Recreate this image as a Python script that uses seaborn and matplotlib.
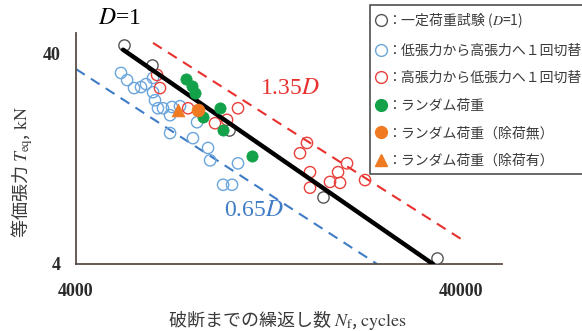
import matplotlib
matplotlib.use("Agg")
import matplotlib.pyplot as plt
from matplotlib.lines import Line2D
from matplotlib.ticker import FixedLocator, NullFormatter
import seaborn as sns

# ---------------- data ----------------
const_N = [5330, 6300, 9990, 17500, 34700]
const_T = [43.6, 35.1, 17.3, 8.3, 4.27]

low_high_N = [5235, 5430, 5660, 5900, 6080, 6340, 6340, 6415, 6530, 6730, 7020,
              7100, 7450, 8250, 7020, 8050, 8810, 8920, 10540, 9640, 10170]
low_high_T = [32.2, 29.8, 27.3, 27.6, 28.5, 30.5, 26.1, 23.9, 21.9, 21.9, 20.3,
              22.2, 22.4, 18.8, 16.7, 15.8, 14.2, 12.4, 12.0, 9.5, 9.5]

high_low_N = [6495, 6610, 7820, 9185, 9870, 10540, 15270, 15920, 16210, 16210,
              18270, 19170, 19400, 20230, 22530]
high_low_T = [31.5, 27.3, 21.9, 18.6, 19.3, 21.9, 13.4, 15.0, 10.9, 9.2,
              9.8, 10.9, 9.7, 12.0, 10.0]

random_N = [7725, 8005, 8150, 8550, 9460, 9640, 11460]
random_T = [30.1, 27.9, 25.9, 19.9, 21.9, 17.3, 13.0]

random_noun_N = [8300]
random_noun_T = [21.5]

random_un_N = [7360]
random_un_T = [21.5]

line_D1_N = [5300, 33800]
line_D1_T = [41.5, 4.0]
line_065_N = [4000, 24200]
line_065_T = [33.6, 4.0]
line_135_N = [6340, 41200]
line_135_T = [44.7, 5.08]

x_ticks = [4000, 40000]
x_minor = [8000, 12000, 16000, 20000, 24000, 28000, 32000, 36000]
y_ticks = [4, 40]

legend_labels = ["：一定荷重試験 ($D$=1)",
                 "：低張力から高張力へ１回切替",
                 "：高張力から低張力へ１回切替",
                 "：ランダム荷重",
                 "：ランダム荷重（除荷無）",
                 "：ランダム荷重（除荷有）"]

# ---------------- style ----------------
sns.set_theme(style="white")
plt.rcParams["font.family"] = ["Noto Sans CJK JP", "DejaVu Sans"]
plt.rcParams["mathtext.fontset"] = "stix"

GRAY = "#555555"
BLUE = "#6aa5dc"
RED = "#e8403a"
GREEN = "#13a24a"
ORANGE = "#ef7a22"
LBLUE = "#3f7cc6"
LRED = "#e8312f"
SPINE = "#5a4d48"
TXT = "#3a3a3a"

fig = plt.figure(figsize=(5.82, 3.31), dpi=100)
ax = fig.add_axes([76 / 582, 1 - 264 / 331, (502 - 76) / 582, (264 - 33) / 331])
ax.set_xscale("log")
ax.set_yscale("log")

# lines
sns.lineplot(x=line_065_N, y=line_065_T, ax=ax, color=LBLUE, lw=1.5,
             linestyle=(0, (5, 3.5)), zorder=2)
sns.lineplot(x=line_135_N, y=line_135_T, ax=ax, color=LRED, lw=1.5,
             linestyle=(0, (5, 3.5)), zorder=2)
sns.lineplot(x=line_D1_N, y=line_D1_T, ax=ax, color="black", lw=3.2, zorder=4)

S = 66
sns.scatterplot(x=low_high_N, y=low_high_T, ax=ax, marker="o", s=S,
                facecolor="none", edgecolor=BLUE, linewidth=1.0, zorder=3)
sns.scatterplot(x=high_low_N, y=high_low_T, ax=ax, marker="o", s=S,
                facecolor="none", edgecolor=RED, linewidth=1.0, zorder=3)
sns.scatterplot(x=const_N, y=const_T, ax=ax, marker="o", s=S,
                facecolor="white", edgecolor=GRAY, linewidth=1.0, zorder=3)
sns.scatterplot(x=random_N, y=random_T, ax=ax, marker="o", s=S,
                color=GREEN, edgecolor=GREEN, linewidth=0.5, zorder=5)
sns.scatterplot(x=random_noun_N, y=random_noun_T, ax=ax, marker="o", s=S * 1.3,
                color=ORANGE, edgecolor=ORANGE, linewidth=0.5, zorder=5)
sns.scatterplot(x=random_un_N, y=random_un_T, ax=ax, marker="^", s=S * 1.3,
                color=ORANGE, edgecolor=ORANGE, linewidth=0.5, zorder=5)

ax.set_xlim(4000, 51100)
ax.set_ylim(4, 49.8)

# axes styling
for s in ["top", "right"]:
    ax.spines[s].set_visible(False)
for s in ["left", "bottom"]:
    ax.spines[s].set_color(SPINE)
    ax.spines[s].set_linewidth(1.3)

ax.set_xticks(x_ticks)
ax.set_xticklabels([str(v) for v in x_ticks])
ax.xaxis.set_minor_locator(FixedLocator(x_minor))
ax.xaxis.set_minor_formatter(NullFormatter())
ax.set_yticks(y_ticks)
ax.set_yticklabels([str(v) for v in y_ticks])
ax.yaxis.set_minor_locator(FixedLocator([]))
ax.tick_params(axis="x", which="both", direction="in", length=4, width=1.0,
               color=SPINE, pad=14)
ax.tick_params(axis="y", which="both", length=0, pad=11)
for lab in ax.get_xticklabels() + ax.get_yticklabels():
    lab.set_fontfamily("Liberation Serif")
    lab.set_fontweight("bold")
    lab.set_fontsize(13)
    lab.set_color("#2a2a2a")

ax.set_xlabel("")
ax.set_ylabel("")

# axis titles
fig.text(287 / 582, 1 - 320 / 331, "破断までの繰返し数 $N_{\\rm f}$, $\\mathrm{cycles}$",
         ha="center", va="center", fontsize=13, color=TXT)
fig.text(22 / 582, 1 - 172 / 331, "等価張力 $T_{\\rm eq}$, $\\mathrm{kN}$",
         ha="center", va="center", rotation=90, fontsize=13, color=TXT)

# annotations
fig.text(119 / 582, 1 - 19 / 331, "$D$=1", ha="center", va="center",
         fontsize=17, family="Liberation Serif", color="black")
fig.text(290 / 582, 1 - 88 / 331, "1.35$D$", ha="center", va="center",
         fontsize=17, family="Liberation Serif", color=LRED)
fig.text(254 / 582, 1 - 210 / 331, "0.65$D$", ha="center", va="center",
         fontsize=17, family="Liberation Serif", color=LBLUE)

# legend
ms = 8.5
handles = [
    Line2D([], [], ls="none", marker="o", ms=ms, mfc="none", mec=GRAY, mew=1.0),
    Line2D([], [], ls="none", marker="o", ms=ms, mfc="none", mec=BLUE, mew=1.0),
    Line2D([], [], ls="none", marker="o", ms=ms, mfc="none", mec=RED, mew=1.0),
    Line2D([], [], ls="none", marker="o", ms=ms, mfc=GREEN, mec=GREEN),
    Line2D([], [], ls="none", marker="o", ms=ms, mfc=ORANGE, mec=ORANGE),
    Line2D([], [], ls="none", marker="^", ms=ms, mfc=ORANGE, mec=ORANGE),
]
leg = ax.legend(handles, legend_labels, loc="upper left",
                bbox_to_anchor=(370 / 582, 1 - 5 / 331),
                bbox_transform=fig.transFigure, frameon=True, fancybox=False,
                fontsize=10, handlelength=0.7, handletextpad=0.1,
                labelspacing=0.98, borderpad=0.45, borderaxespad=0)
leg.get_frame().set_edgecolor("#222222")
leg.get_frame().set_linewidth(1.2)
for t in leg.get_texts():
    t.set_color(TXT)

fig.savefig("out.png", dpi=100, facecolor="white")
